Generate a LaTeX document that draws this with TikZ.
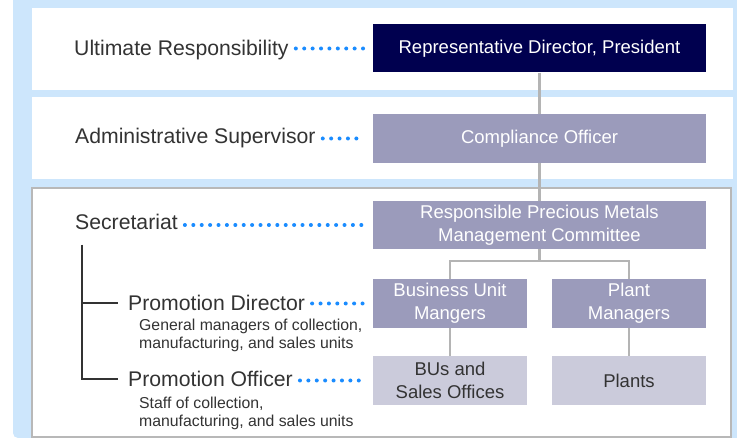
\documentclass[tikz,border=0pt]{standalone}
\usepackage{fontspec}
\setmainfont{Liberation Sans}
\usepackage{tikz}
\usetikzlibrary{arrows.meta}

\definecolor{paleblue}{HTML}{CDE6FC}
\definecolor{navy}{HTML}{00004F}
\definecolor{midbox}{HTML}{9B9BBB}
\definecolor{lightbox}{HTML}{CBCBDB}
\definecolor{linegray}{HTML}{B4B4B4}
\definecolor{framegray}{HTML}{B8B8B8}
\definecolor{dotblue}{HTML}{1A8CFF}
\definecolor{textgray}{HTML}{333333}

\begin{document}
\begin{tikzpicture}[x=1pt, y=-1pt,
    box/.style={rectangle, minimum width=333pt, minimum height=48pt, inner sep=0pt,
      text=white, align=center, font=\fontsize{18.5}{23}\selectfont},
    smallbox/.style={box, minimum width=154pt, minimum height=49pt},
    lbl/.style={anchor=base west, text=textgray, inner sep=0pt, font=\fontsize{21.2}{24}\selectfont},
    note/.style={anchor=base west, text=textgray, inner sep=0pt, align=left,
      font=\fontsize{15.8}{18}\selectfont},
    dotline/.style={dotblue, line width=4pt, line cap=round, dash pattern=on 0pt off 8.4pt,
      shorten <=7pt, shorten >=9pt},
    link/.style={linegray, line width=2.5pt},
    tree/.style={textgray, line width=2pt}]
      \useasboundingbox (0,0) rectangle (737,438);
      \clip (0,0) rectangle (737,438);
      \fill[paleblue, rounded corners=5pt] (13,-10) rectangle (750,438);
      \fill[white] (32,8) rectangle (733,90);
      \fill[white] (32,97) rectangle (733,179);
      \draw[framegray, line width=2pt, fill=white] (32,188) rectangle (731,437);

      \node[box, fill=navy] (pres) at (539.5,48.5) {Representative Director, President};
      \node[box, fill=midbox, minimum height=49pt] (comp) at (539.5,138.5) {Compliance Officer};
      \node[box, fill=midbox] (cmte) at (539.5,225) {Responsible Precious Metals\\Management Committee};
      \node[smallbox, fill=midbox] (bum) at (450,303.5) {Business Unit\\Mangers};
      \node[smallbox, fill=midbox] (plm) at (629,303.5) {Plant\\Managers};
      \node[smallbox, fill=lightbox, text=textgray] (bus) at (450,380.5) {BUs and\\Sales Offices};
      \node[smallbox, fill=lightbox, text=textgray] (plants) at (629,380.5) {Plants};

      \coordinate (fork) at (539.5,261);
      \draw[link] (pres) -- (comp);
      \draw[link] (comp) -- (cmte);
      \draw[link] (cmte) -- (fork);
      \draw[link] (bum) |- (fork) -| (plm);
      \draw[link] (bum) -- (bus);
      \draw[link] (plm) -- (plants);

      \node[lbl] (ult) at (74,56) {Ultimate Responsibility};
      \node[lbl] (adm) at (75,144) {Administrative Supervisor};
      \node[lbl] (secr) at (75,230) {Secretariat};
      \node[lbl] (pdir) at (128,311) {Promotion Director};
      \node[lbl] (pofc) at (128,387) {Promotion Officer};
      \node[note] (pdirnote) at (139,349) {General managers of collection,\\manufacturing, and sales units};
      \node[note] (pofcnote) at (139,427) {Staff of collection,\\manufacturing, and sales units};

      \draw[dotline] (pres.west -| ult.east) -- (pres.west);
      \draw[dotline] (comp.west -| adm.east) -- (comp.west);
      \draw[dotline] (cmte.west -| secr.east) -- (cmte.west);
      \draw[dotline] (bum.west -| pdir.east) -- (bum.west);
      \draw[dotline] (bus.west -| pofc.east) -- (bus.west);

      \coordinate (trunk) at (82,245);
      \draw[tree] (trunk) |- ([xshift=-10pt]pdir.west);
      \draw[tree] (trunk) |- ([xshift=-10pt]pofc.west);
    \end{tikzpicture}
\end{document}
